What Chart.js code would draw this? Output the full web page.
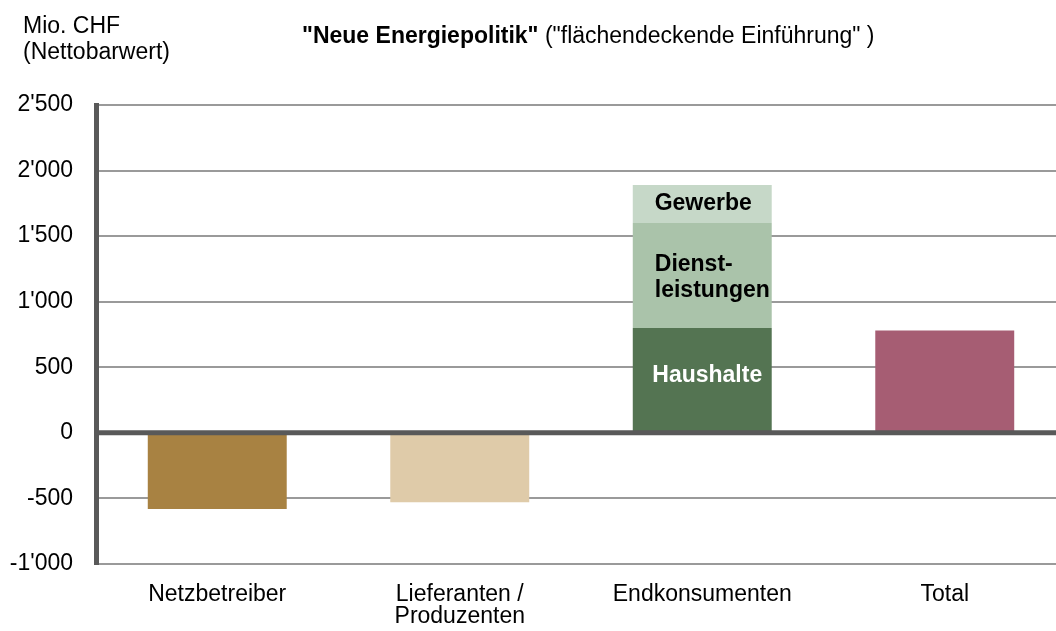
<!DOCTYPE html>
<html lang="de">
<head>
<meta charset="utf-8">
<title>Neue Energiepolitik – Nettobarwert</title>
<script src="https://cdn.jsdelivr.net/npm/chart.js@4/dist/chart.umd.min.js"></script>
<style>
    html, body { margin: 0; padding: 0; background: #ffffff; overflow: hidden; }
    #wrap { position: relative; width: 1080px; height: 631px; }
</style>
</head>
<body>
<div id="wrap"><canvas id="npv-chart"></canvas></div>
<script>
/* Data: Mio. CHF, Nettobarwert per Akteur ******************************************/

const categories = ["Netzbetreiber", ["Lieferanten /", "Produzenten"], "Endkonsumenten", "Total"];

// first segment of every bar (Endkonsumenten: Haushalte)
const baseValues = [-580, -530, 800, 780];
const dienstleistungenValues = [null, null, 800, null];
const gewerbeValues = [null, null, 290, null];

const yMin = -1000;
const yMax = 2500;
const yStep = 500;

const baseColors = ["#a88242", "#dfcba9", "#547452", "#a65d73"];
const dienstColor = "#aac3aa";
const gewerbeColor = "#c6d8c8";

const FONT = "'Liberation Sans', Arial, Helvetica, sans-serif";

// 2500 -> 2'500
const fmtCHF = (v) => {
    const s = String(Math.abs(v)).replace(/\B(?=(\d{3})+(?!\d))/g, "'");
    return (v < 0 ? "-" : "") + s;
};

/* Plugins *************************************************************************/

// thick zero line drawn over the bars
const zeroLine = {
    id: "zeroLine",
    afterDatasetsDraw(chart) {
        const {ctx, chartArea} = chart;
        const y = chart.scales.y.getPixelForValue(0);
        ctx.save();
        ctx.strokeStyle = "#595959";
        ctx.lineWidth = 5;
        ctx.beginPath();
        ctx.moveTo(chartArea.left, y);
        ctx.lineTo(chartArea.right, y);
        ctx.stroke();
        ctx.restore();
    }
};

// names of the stacked segments inside the Endkonsumenten bar
const segmentLabels = {
    id: "segmentLabels",
    afterDatasetsDraw(chart) {
        const {ctx} = chart;
        const idx = 2;
        const seg = (ds) => {
            const el = chart.getDatasetMeta(ds).data[idx];
            return {x: el.x, left: el.x - el.width / 2, mid: (el.y + el.base) / 2};
        };
        ctx.save();
        ctx.font = "bold 23px " + FONT;
        ctx.textBaseline = "alphabetic";

        const h = seg(0);
        ctx.fillStyle = "#ffffff";
        ctx.textAlign = "center";
        ctx.fillText("Haushalte", h.x + 5, h.mid + 2);

        const d = seg(1);
        ctx.fillStyle = "#000000";
        ctx.textAlign = "left";
        ctx.fillText("Dienst-", d.left + 22, d.mid - 4);
        ctx.fillText("leistungen", d.left + 22, d.mid + 22);

        const g = seg(2);
        ctx.textAlign = "center";
        ctx.fillText("Gewerbe", g.x + 1, g.mid + 6);
        ctx.restore();
    }
};

// unit and title lines above the plot
const headerText = {
    id: "headerText",
    afterDraw(chart) {
        const {ctx} = chart;
        ctx.save();
        ctx.fillStyle = "#000000";
        ctx.textAlign = "left";
        ctx.textBaseline = "alphabetic";
        ctx.font = "23px " + FONT;
        ctx.fillText("Mio. CHF", 23, 33);
        ctx.fillText("(Nettobarwert)", 23, 59);

        const bold = "\"Neue Energiepolitik\"";
        ctx.font = "bold 23px " + FONT;
        ctx.fillText(bold, 302, 43);
        const w = ctx.measureText(bold).width;
        ctx.font = "23px " + FONT;
        ctx.fillText(" (\"flächendeckende Einführung\" )", 302 + w, 43);
        ctx.restore();
    }
};

/* Chart ***************************************************************************/

const ctx = document.getElementById("npv-chart").getContext("2d");
const npvChart = new Chart(ctx, {
    type: "bar",
    data: {
        labels: categories,
        datasets: [{
            label: "Basis", data: baseValues, backgroundColor: baseColors,
        }, {
            label: "Dienstleistungen", data: dienstleistungenValues, backgroundColor: dienstColor,
        }, {
            label: "Gewerbe", data: gewerbeValues, backgroundColor: gewerbeColor,
        }],
    },
    options: {
        responsive: true,
        maintainAspectRatio: false,
        animation: false,
        barPercentage: 0.573,
        categoryPercentage: 1.0,
        layout: {padding: {top: 105, left: 0, right: 14, bottom: 0}},
        plugins: {
            legend: {display: false},
            tooltip: {enabled: false},
            title: {display: false},
        },
        scales: {
            x: {
                stacked: true,
                grid: {display: false, drawTicks: false},
                border: {display: false},
                ticks: {
                    color: "#000000",
                    padding: 20,
                    font: {family: FONT, size: 23, lineHeight: 0.95},
                    maxRotation: 0,
                    autoSkip: false,
                },
                afterFit: (scale) => { scale.height = 67; },
            },
            y: {
                stacked: true,
                min: yMin,
                max: yMax,
                grid: {color: "#9a9a9a", lineWidth: 2, drawTicks: false},
                border: {display: true, color: "#595959", width: 5},
                ticks: {
                    stepSize: yStep,
                    color: "#000000",
                    padding: 23,
                    font: {family: FONT, size: 23},
                    callback: (v) => fmtCHF(v),
                },
                afterFit: (scale) => { scale.width = 96; },
            },
        },
    },
    plugins: [zeroLine, segmentLabels, headerText],
});
</script>
</body>
</html>
